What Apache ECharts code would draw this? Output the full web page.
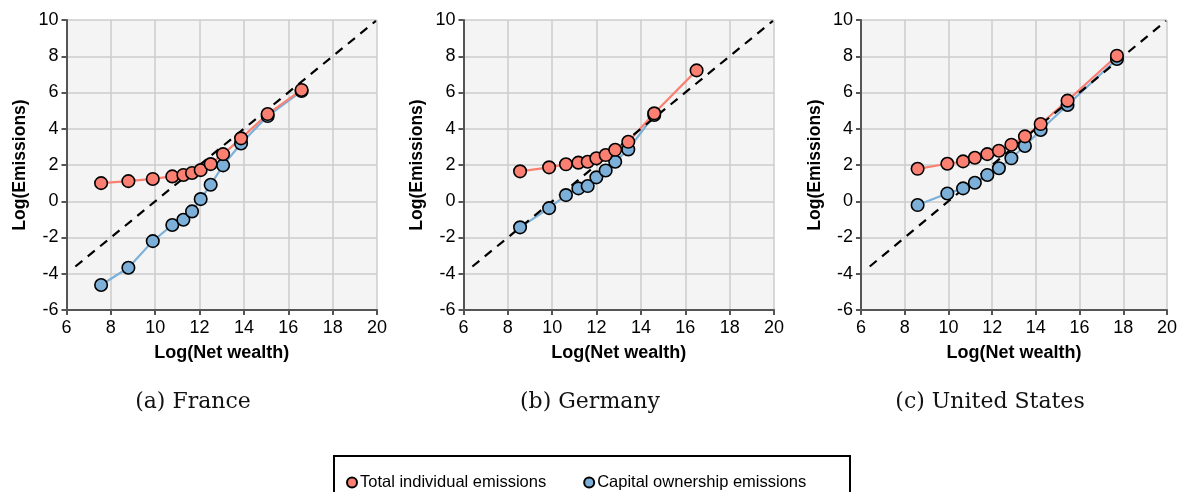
<!DOCTYPE html>
<html>
<head>
<meta charset="utf-8">
<script src="https://cdn.jsdelivr.net/npm/echarts@6/dist/echarts.min.js"></script>
<style>
  html, body { margin: 0; padding: 0; background: #fff; }
  #chart { width: 1180px; height: 492px; }
</style>
</head>
<body>
<div id="chart"></div>
<script>
// panel data: x = log(net wealth), y = log(emissions)
const franceX = [7.56, 8.79, 9.89, 10.77, 11.27, 11.66, 12.05, 12.50, 13.06, 13.87, 15.07, 16.60];
const franceTotal = [1.0, 1.11, 1.23, 1.37, 1.45, 1.56, 1.72, 2.05, 2.6, 3.47, 4.81, 6.14];
const franceCapital = [-4.62, -3.67, -2.2, -1.31, -1.02, -0.56, 0.12, 0.91, 1.98, 3.19, 4.70, 6.08];

const germanyX = [8.55, 9.86, 10.62, 11.18, 11.60, 11.99, 12.41, 12.84, 13.43, 14.60, 16.51];
const germanyTotal = [1.65, 1.87, 2.04, 2.13, 2.18, 2.37, 2.55, 2.84, 3.28, 4.85, 7.22];
const germanyCapital = [-1.44, -0.38, 0.34, 0.71, 0.84, 1.32, 1.70, 2.18, 2.86, 4.76, null];

const usX = [8.59, 9.95, 10.67, 11.21, 11.78, 12.31, 12.88, 13.50, 14.22, 15.45, 17.71];
const usTotal = [1.79, 2.07, 2.20, 2.40, 2.60, 2.79, 3.12, 3.58, 4.26, 5.55, 8.03];
const usCapital = [-0.21, 0.43, 0.71, 1.02, 1.45, 1.82, 2.37, 3.05, 3.93, 5.31, 7.85];

// 45 degree reference line y = x - 10
const diagX = [6.4, 19.95];

const captions = ['(a) France', '(b) Germany', '(c) United States'];
const legendNames = ['Total individual emissions', 'Capital ownership emissions'];

const xMin = 6, xMax = 20, yMin = -6, yMax = 10, step = 2;

const RED = '#fb8072';
const BLUE = '#7cb0d8';
const font = 'Liberation Sans, Arial, sans-serif';

const panels = [
  { x: franceX, total: franceTotal, capital: franceCapital, left: 66.5, capX: 193 },
  { x: germanyX, total: germanyTotal, capital: germanyCapital, left: 463.5, capX: 590 },
  { x: usX, total: usTotal, capital: usCapital, left: 861, capX: 990 }
];

const pairs = (xs, ys) => xs.map((v, i) => [v, ys[i]]);

const grid = [], xAxis = [], yAxis = [], series = [], graphic = [];

panels.forEach((p, i) => {
  grid.push({
    left: p.left, top: 20, width: 310.5, height: 290,
    show: true, backgroundColor: '#f4f4f4', borderWidth: 0
  });
  xAxis.push({
    gridIndex: i, type: 'value', min: xMin, max: xMax, interval: step,
    name: 'Log(Net wealth)', nameLocation: 'middle', nameGap: 34,
    nameTextStyle: { fontFamily: font, fontSize: 18, fontWeight: 'bold', color: '#000' },
    axisLine: { show: true, onZero: false, lineStyle: { color: '#555', width: 2 } },
    axisTick: { show: true, length: 5, lineStyle: { color: '#555', width: 2 } },
    axisLabel: { fontFamily: font, fontSize: 18, color: '#000', margin: 9 },
    splitLine: { show: true, lineStyle: { color: '#cccccc', width: 1.5 } }
  });
  yAxis.push({
    gridIndex: i, type: 'value', min: yMin, max: yMax, interval: step,
    name: 'Log(Emissions)', nameLocation: 'middle', nameGap: 37,
    nameTextStyle: { fontFamily: font, fontSize: 17.5, fontWeight: 'bold', color: '#000' },
    axisLine: { show: true, onZero: false, lineStyle: { color: '#555', width: 2 } },
    axisTick: { show: true, length: 5, lineStyle: { color: '#555', width: 2 } },
    axisLabel: { fontFamily: font, fontSize: 18, color: '#000', margin: 8 },
    splitLine: { show: true, lineStyle: { color: '#cccccc', width: 1.5 } }
  });

  // connecting lines
  series.push({
    type: 'line', name: 'cap-line-' + i, xAxisIndex: i, yAxisIndex: i,
    data: pairs(p.x, p.capital), showSymbol: false, z: 2,
    lineStyle: { color: BLUE, width: 2.2 }, silent: true
  });
  series.push({
    type: 'line', name: 'tot-line-' + i, xAxisIndex: i, yAxisIndex: i,
    data: pairs(p.x, p.total), showSymbol: false, z: 2,
    lineStyle: { color: RED, width: 2.2 }, silent: true
  });
  // dashed 45 degree line
  series.push({
    type: 'line', name: 'diag-' + i, xAxisIndex: i, yAxisIndex: i,
    data: diagX.map(v => [v, v - 10]), showSymbol: false, z: 3,
    lineStyle: { color: '#000', width: 2.2, type: [9, 7] }, silent: true
  });
  // markers
  series.push({
    type: 'scatter', name: legendNames[1], xAxisIndex: i, yAxisIndex: i,
    data: pairs(p.x, p.capital).filter(d => d[1] != null), symbolSize: 12.5, z: 4,
    itemStyle: { color: BLUE, borderColor: '#000', borderWidth: 1.6, opacity: 1 }
  });
  series.push({
    type: 'scatter', name: legendNames[0], xAxisIndex: i, yAxisIndex: i,
    data: pairs(p.x, p.total), symbolSize: 12.5, z: 5,
    itemStyle: { color: RED, borderColor: '#000', borderWidth: 1.6, opacity: 1 }
  });

  graphic.push({
    type: 'text', x: p.capX, y: 391,
    style: { text: captions[i], fill: '#111', font: '22px "DejaVu Serif", serif', textAlign: 'center' }
  });
});

// legend frame (runs off the bottom edge)
graphic.push({
  type: 'rect', shape: { x: 334, y: 456, width: 516, height: 60 },
  style: { fill: 'none', stroke: '#000', lineWidth: 2 }
});

const chart = echarts.init(document.getElementById('chart'), null, { renderer: 'canvas' });
chart.setOption({
  animation: false,
  grid, xAxis, yAxis, series, graphic,
  legend: {
    data: legendNames.map(n => ({ name: n, icon: 'circle' })),
    left: 341, top: 469, itemWidth: 10, itemHeight: 10, itemGap: 37,
    textStyle: { fontFamily: font, fontSize: 16.5, color: '#000', padding: [0, 0, 0, -2] }
  }
});
</script>
</body>
</html>
